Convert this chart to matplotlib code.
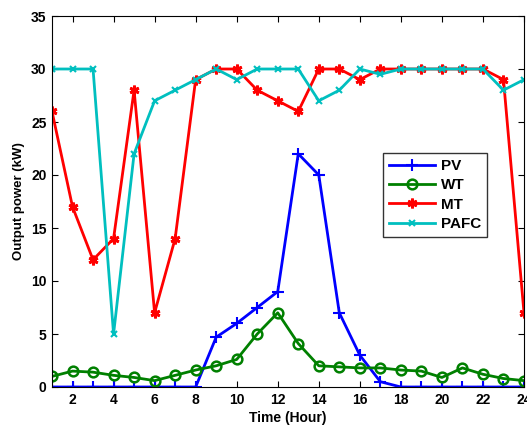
import matplotlib
matplotlib.use("Agg")
import matplotlib.pyplot as plt

hours = list(range(1, 25))
pv = [0, 0, 0, 0, 0, 0, 0, 0, 4.7, 6.0, 7.5, 9.0, 22.0, 20.0, 7.0, 3.0, 0.5, 0, 0, 0, 0, 0, 0, 0]
wt = [1.0, 1.5, 1.4, 1.1, 0.9, 0.6, 1.1, 1.6, 2.0, 2.6, 5.0, 7.0, 4.1, 2.0, 1.9, 1.8, 1.8, 1.6, 1.5, 0.9, 1.8, 1.2, 0.8, 0.6]
mt = [26, 17, 12, 14, 28, 7, 14, 29, 30, 30, 28, 27, 26, 30, 30, 29, 30, 30, 30, 30, 30, 30, 29, 7]
pafc = [30, 30, 30, 5, 22, 27, 28, 29, 30, 29, 30, 30, 30, 27, 28, 30, 29.5, 30, 30, 30, 30, 30, 28, 29]
xticks = list(range(2, 25, 2))
yticks = list(range(0, 36, 5))

plt.rcParams['font.family'] = ['Liberation Sans', 'DejaVu Sans']
plt.rcParams['font.weight'] = 'bold'

fig = plt.figure(figsize=(5.27, 4.26), dpi=100)
ax = fig.add_axes([52/527, 39/426, 472/527, 371/426])

ax.plot(hours, pv, color=(0, 0, 1), lw=2, marker='+', ms=8, mew=1.5, label='PV')
ax.plot(hours, wt, color=(0, 0.5, 0), lw=2, marker='o', ms=7, mew=1.8, mfc='none', label='WT')
ax.plot(hours, mt, color=(1, 0, 0), lw=2, marker=(6, 2, 0), ms=7, mew=2, label='MT')
ax.plot(hours, pafc, color=(0, 0.75, 0.75), lw=2, marker='x', ms=4, mew=1.5, label='PAFC')

ax.set_xlim(1, 24)
ax.set_ylim(0, 35)
ax.set_xticks(xticks)
ax.set_yticks(yticks)
ax.tick_params(direction='in', top=True, right=True, labelsize=10, length=4, width=0.8, pad=4)
for lab in ax.get_xticklabels() + ax.get_yticklabels():
    lab.set_fontweight('bold')
ax.set_xlabel('Time (Hour)', fontsize=10, fontweight='bold', labelpad=3)
ax.set_ylabel('Output power (kW)', fontsize=9.5, fontweight='bold', labelpad=4)

leg = ax.legend(loc='upper left', bbox_to_anchor=((383-52)/472, (387-153)/371),
                borderaxespad=0, fontsize=11, frameon=True, fancybox=False, edgecolor='black',
                handlelength=3.0, borderpad=0.4, labelspacing=0.35, handletextpad=0.4)
leg.get_frame().set_linewidth(1.0)
for t in leg.get_texts():
    t.set_fontweight('bold')

fig.savefig('out.png', dpi=100)
